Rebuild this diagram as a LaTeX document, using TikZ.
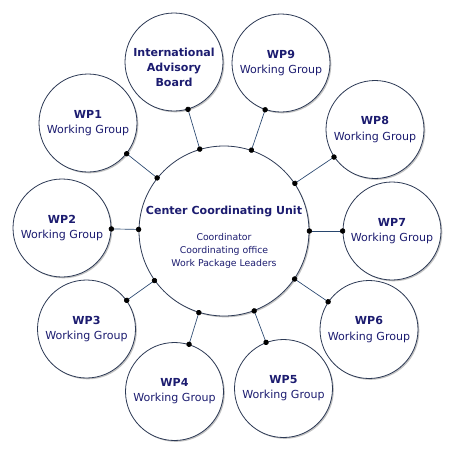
\documentclass[tikz,border=0pt]{standalone}
\usepackage{fontspec}
\setmainfont{DejaVu Sans}
\usetikzlibrary{arrows.meta, shadows}

\definecolor{navy}{RGB}{28,28,112}
\definecolor{rim}{RGB}{45,58,85}
\definecolor{wire}{RGB}{40,70,110}

\begin{document}
\begin{tikzpicture}[x=0.75pt, y=-0.75pt,
    group/.style={circle, draw=rim, line width=0.6pt, fill=white, minimum size=73.5pt,
        inner sep=0pt, align=center, text=navy, font=\fontsize{8.3}{11.4}\selectfont,
        drop shadow={shadow xshift=1pt, shadow yshift=-1pt, fill=black!40, opacity=0.6}},
    hub/.style={group, minimum size=127.5pt, font=\fontsize{7}{9.75}\selectfont},
    link/.style={draw=wire, line width=0.5pt,
        {Circle[length=4pt, color=black]}-{Circle[length=4pt, color=black]},
        shorten <=-2pt, shorten >=-2pt}]

    \useasboundingbox (0,0) rectangle (454,454);

    % Nodes
    \node[hub] (ccu) at (224,231) {\raisebox{-5pt}[\height][\depth]{\begin{tabular}{@{}c@{}}
        \textbf{\fontsize{8.3}{10}\selectfont Center Coordinating Unit}\\[10pt]
        Coordinator\\ Coordinating office\\ Work Package Leaders\end{tabular}}};
    \node[group] (iab) at (174,62) {\raisebox{-5pt}[\height][\depth]{\begin{tabular}{@{}c@{}}
        \textbf{International}\\ \textbf{Advisory}\\ \textbf{Board}\end{tabular}}};
    \node[group] (wp1) at (88,123) {\textbf{WP1}\\Working Group};
    \node[group] (wp2) at (62,228) {\textbf{WP2}\\Working Group};
    \node[group] (wp3) at (86.5,329) {\textbf{WP3}\\Working Group};
    \node[group] (wp4) at (174.5,391.5) {\textbf{WP4}\\Working Group};
    \node[group] (wp5) at (283.5,388.5) {\textbf{WP5}\\Working Group};
    \node[group] (wp6) at (369,329.5) {\textbf{WP6}\\Working Group};
    \node[group] (wp7) at (392,231) {\textbf{WP7}\\Working Group};
    \node[group] (wp8) at (375,129.5) {\textbf{WP8}\\Working Group};
    \node[group] (wp9) at (281,63) {\textbf{WP9}\\Working Group};

    % Links
    \draw[link] (iab) -- (ccu);
    \draw[link] (wp1) -- (ccu);
    \draw[link] (wp2) -- (ccu);
    \draw[link] (wp3) -- (ccu);
    \draw[link] (wp4) -- (ccu);
    \draw[link] (wp5) -- (ccu);
    \draw[link] (wp6) -- (ccu);
    \draw[link] (wp7) -- (ccu);
    \draw[link] (wp8) -- (ccu);
    \draw[link] (wp9) -- (ccu);
\end{tikzpicture}
\end{document}
